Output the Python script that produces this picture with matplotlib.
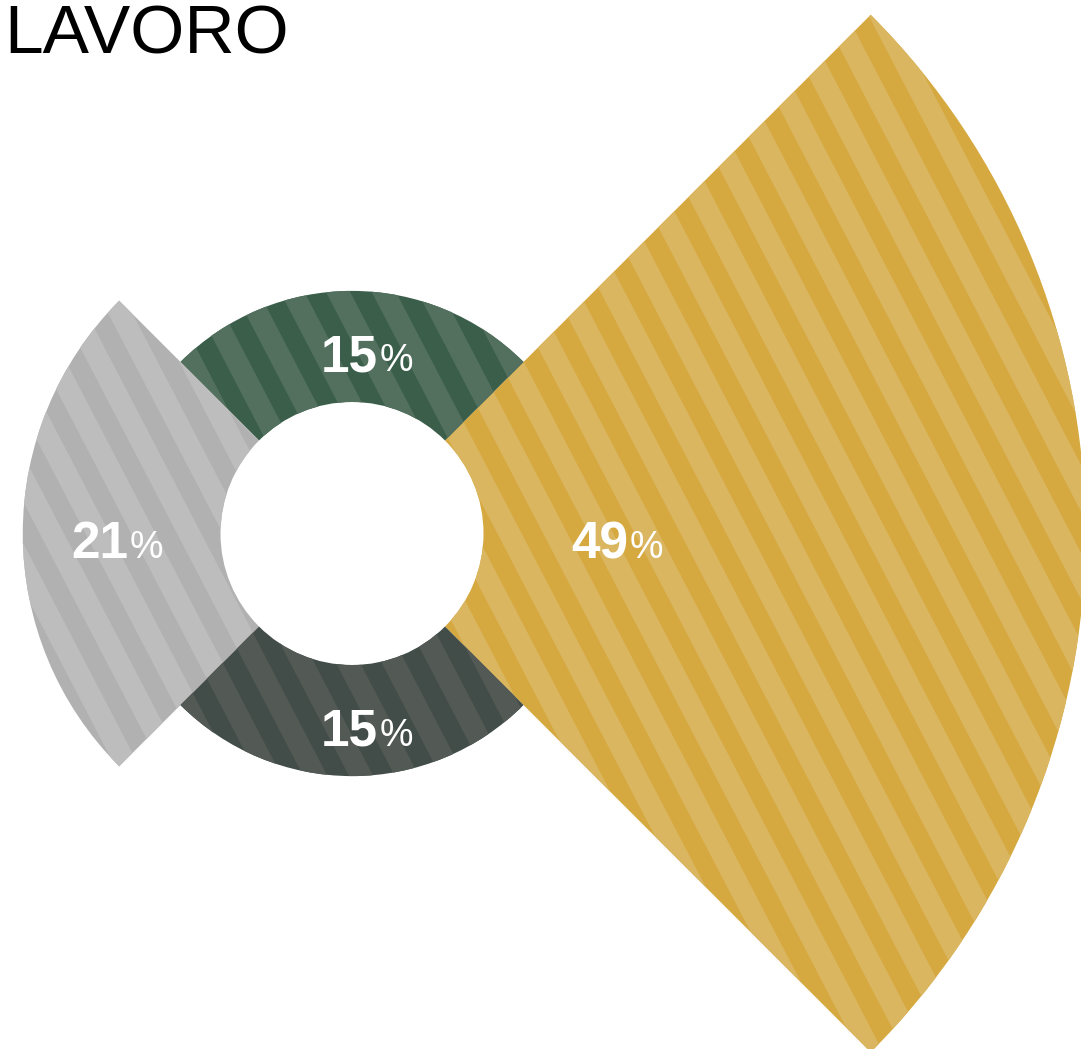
import numpy as np
import matplotlib
matplotlib.use("Agg")
import matplotlib.pyplot as plt
from matplotlib.patches import Wedge, Polygon

# shares of the four slices, counter-clockwise from the right
values = [49, 15, 21, 15]
base_colors = ["#d6a940", "#3a5e4a", "#b1b1b1", "#424c48"]
stripe_colors = ["#dbb661", "#53705f", "#bdbdbd", "#535954"]
title = "LAVORO"

W, H = 1081, 1049
fig = plt.figure(figsize=(W / 100, H / 100), dpi=100)
ax = fig.add_axes([0, 0, 1, 1])
ax.set_xlim(0, W)
ax.set_ylim(0, H)
ax.set_aspect("equal")
ax.axis("off")

cx, cy = 352, H - 533.5
r_in = 131.5
# outer radius grows linearly with the share
r_out = [26 + 14.44 * v for v in values]

# stripe geometry: steep "\" bands
ang = np.deg2rad(-62.5)
d = np.array([np.cos(ang), np.sin(ang)])
n = np.array([-d[1], d[0]])
period = 40.6
band = 21.5
phase = 7.2

for i, v in enumerate(values):
    theta1 = -45 + 90 * i
    theta2 = theta1 + 90
    w = Wedge((cx, cy), r_out[i], theta1, theta2, width=r_out[i] - r_in,
              facecolor=base_colors[i], edgecolor="none", antialiased=True)
    ax.add_patch(w)
    # light bands clipped to the slice
    for k in range(-40, 41):
        s0 = k * period + phase
        s1 = s0 + band
        L = 1600
        p = np.array([cx, cy])
        pts = [p + n * s0 - d * L, p + n * s0 + d * L,
               p + n * s1 + d * L, p + n * s1 - d * L]
        poly = Polygon(pts, closed=True, facecolor=stripe_colors[i],
                       edgecolor="none")
        ax.add_patch(poly)
        poly.set_clip_path(w)

    # label: bold number plus lighter percent sign
    mid = np.deg2rad((theta1 + theta2) / 2)
    lr = 250 if i % 2 == 0 else (r_in + r_out[i]) / 2
    lx = cx + lr * np.cos(mid) + 12
    ly = cy + lr * np.sin(mid) - 25
    ax.text(lx + 14, ly, f"{v}", ha="right", va="baseline", color="white",
            fontsize=37, fontweight="bold", family="Liberation Sans")
    ax.text(lx + 16, ly, "%", ha="left", va="baseline", color="white",
            fontsize=27, family="Liberation Sans")

ax.text(4, H - 53, title, ha="left", va="baseline", fontsize=50,
        family="Liberation Sans", color="black")

fig.savefig("out.png", dpi=100)
